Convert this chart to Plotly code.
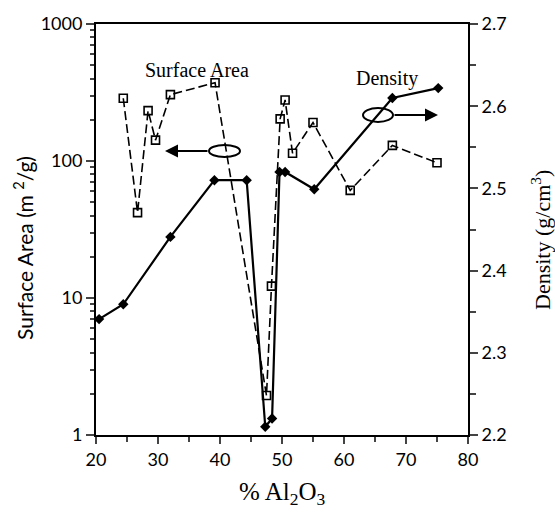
import plotly.graph_objects as go

# Surface area (open squares, dashed line, left log axis)
sa_x = [24.4, 26.7, 28.4, 29.6, 32.0, 39.2, 47.5, 48.3, 49.7, 50.5, 51.7, 55.0, 61.0, 67.8, 75.0]
sa_y = [287, 42, 233, 142, 305, 373, 1.94, 12.2, 203, 279, 114, 191, 61, 130, 97]

# Density (filled diamonds, solid line, right axis)
den_x = [20.5, 24.4, 32.0, 39.1, 44.3, 47.3, 48.4, 49.6, 50.5, 55.2, 67.8, 75.2]
den_y = [2.341, 2.359, 2.441, 2.510, 2.510, 2.210, 2.220, 2.520, 2.520, 2.499, 2.610, 2.622]

x_ticks = [20, 30, 40, 50, 60, 70, 80]
sa_ticks = [1, 10, 100, 1000]
sa_minor = [m * d for d in (1, 10, 100) for m in range(2, 10)]
den_ticks = [2.2, 2.3, 2.4, 2.5, 2.6, 2.7]

tick_font = dict(family="Lato, sans-serif", size=18, color="black")
serif = "Liberation Serif, serif"

W, H = 555, 514
PL, PR, PT, PB = 96, 468, 24, 435
def px(x):
    return (x - PL) / (PR - PL)
def py(y):
    return (PB - y) / (PB - PT)

fig = go.Figure()
fig.add_trace(go.Scatter(
    x=sa_x, y=sa_y, mode="lines+markers", name="Surface Area",
    line=dict(color="black", width=1.6, dash="9px,4px"),
    marker=dict(symbol="square-open", size=8, color="black", line=dict(width=1.6)),
    yaxis="y"))
fig.add_trace(go.Scatter(
    x=den_x, y=den_y, mode="lines+markers", name="Density",
    line=dict(color="black", width=2.2),
    marker=dict(symbol="diamond", size=8, color="black"),
    yaxis="y2"))

fig.update_layout(
    width=W, height=H,
    margin=dict(l=PL, r=W - PR, t=PT, b=H - PB),
    paper_bgcolor="white", plot_bgcolor="white",
    showlegend=False,
    xaxis=dict(range=[20, 80], tickvals=x_ticks, ticks="outside", ticklen=7, tickwidth=2,
               showline=True, linewidth=2, linecolor="black", mirror=True,
               showgrid=False, zeroline=False, tickfont=tick_font,
               minor=dict(dtick=5, ticks="outside", ticklen=5, tickwidth=2, showgrid=False)),
    yaxis=dict(type="log", range=[0, 3], tickvals=sa_ticks, ticktext=["1", "10", "100", "1000"],
               ticks="outside", ticklen=8, tickwidth=2,
               showline=True, linewidth=2, linecolor="black",
               showgrid=False, zeroline=False, tickfont=tick_font,
               minor=dict(tickmode="array", tickvals=sa_minor, ticks="outside", ticklen=4,
                          tickwidth=1.5, showgrid=False)),
    yaxis2=dict(overlaying="y", side="right", range=[2.2, 2.7], tickvals=den_ticks,
                ticktext=["2.2", "2.3", "2.4", "2.5", "2.6", "2.7"],
                ticks="outside", ticklen=8, tickwidth=2,
                showline=True, linewidth=2, linecolor="black",
                showgrid=False, zeroline=False, tickfont=tick_font,
                minor=dict(dtick=0.05, ticks="outside", ticklen=6, tickwidth=2, showgrid=False)),
)

C = dict(xanchor="center", yanchor="middle", showarrow=False, xref="paper", yref="paper")

# Axis titles
fig.add_annotation(text="Surface Area (m <sup>2</sup>/g)", x=px(23), y=py(248), textangle=-90,
                   font=dict(family="Lato, sans-serif", size=21, color="black"), **C)
fig.add_annotation(text="Density (g/cm<sup>3</sup>)", x=px(541), y=py(240), textangle=-90,
                   font=dict(family=serif, size=22, color="black"), **C)
fig.add_annotation(text="% Al<sub>2</sub>O<sub>3</sub>", x=0.5, y=py(493),
                   font=dict(family=serif, size=25, color="black"), **C)

# Series labels
fig.add_annotation(text="Surface Area", x=px(197), y=py(70),
                   font=dict(family=serif, size=20, color="black"), **C)
fig.add_annotation(text="Density", x=px(387), y=py(79),
                   font=dict(family=serif, size=20, color="black"), **C)

# Ellipses with arrows
fig.add_shape(type="circle", xref="paper", yref="paper",
              x0=px(209), x1=px(240), y0=py(157), y1=py(145),
              line=dict(color="black", width=2))
fig.add_shape(type="circle", xref="paper", yref="paper",
              x0=px(363), x1=px(393), y0=py(122), y1=py(108),
              line=dict(color="black", width=2))
fig.add_annotation(text="", xref="paper", yref="paper",
                   x=px(165), y=py(151), ax=44, ay=0,
                   showarrow=True, arrowhead=2, arrowsize=1.3, arrowwidth=2, arrowcolor="black")
fig.add_annotation(text="", xref="paper", yref="paper",
                   x=px(438), y=py(115), ax=-45, ay=0,
                   showarrow=True, arrowhead=2, arrowsize=1.3, arrowwidth=2, arrowcolor="black")

fig.write_html("out.html", config={"displayModeBar": False},
               post_script="document.body.style.margin='0';document.body.style.overflow='hidden';")
